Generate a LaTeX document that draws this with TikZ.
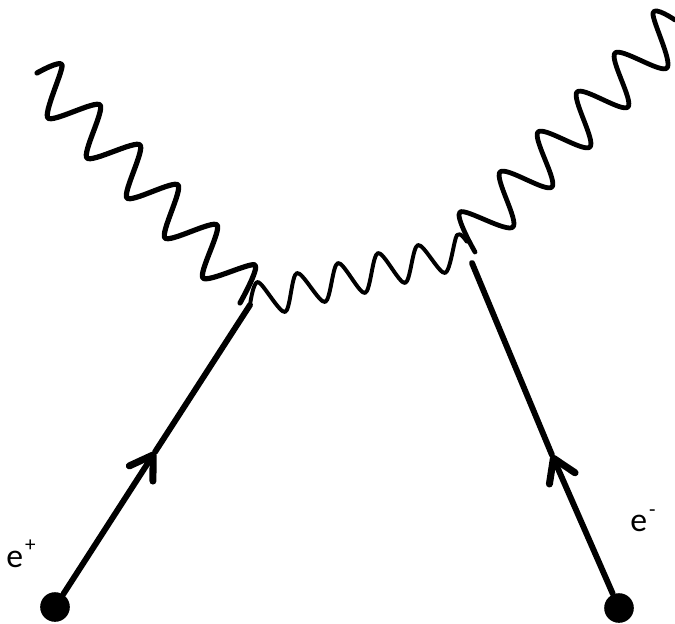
\documentclass[tikz,border=0pt]{standalone}
\usepackage{fontspec}
\setmainfont{Carlito}
\usetikzlibrary{arrows.meta}
\tikzset{
  every picture/.style={line width=1.2pt, line cap=round, line join=round},
  dot/.style={circle, fill=black, inner sep=0pt, minimum size=0.74cm},
  fermion/.style={line width=4.2pt},
  fermionarrow/.style={fermion, -{Straight Barb[length=5.5mm, width=7mm, round, line width=5pt]}},
  photon/.style={line width=#1},
  photon/.default=3pt,
  charge/.style={font=\fontsize{24}{24}\selectfont, inner sep=0pt},
}
\newcommand{\chargetext}[1]{e\kern1.5pt\raisebox{11pt}{\fontsize{15}{15}\selectfont #1}}
\begin{document}
\begin{tikzpicture}[x=0.025cm, y=-0.025cm]
  \useasboundingbox (0,0) rectangle (675,623);
  % incoming electron and positron
  \node[dot] (dotl) at (55,607) {};
  \node[dot] (dotr) at (619,608) {};
  \coordinate (tipl) at (155,452);
  \coordinate (tipr) at (552,455);
  \coordinate (vertl) at (250,305);
  \coordinate (vertr) at (472,263);
  \draw[fermionarrow] (dotl) -- (tipl);
  \draw[fermion] (tipl) -- (vertl);
  \draw[fermionarrow] (dotr) -- (tipr);
  \draw[fermion] (tipr) -- (vertr);
  % photons
  \coordinate (photl) at (37,73);
  \coordinate (photr) at (675,20);
  \draw[photon=3.7pt] plot[smooth, tension=0.45] coordinates {(photl) (62,65) (48,118) (100,105) (87,158) (140,145) (127,198) (178,185) (165,238) (217,225) (203,278) (255,265) (240,303)};
  \draw[photon=3.4pt] plot[smooth, tension=0.55] coordinates {(photr) (653,13) (667,68) (615,53) (628,107) (577,92) (590,147) (538,132) (552,187) (500,172) (513,227) (460,212) (475,252)};
  \draw[photon=2.8pt] plot[smooth, tension=0.5] coordinates {(vertl) (258,282) (285,312) (297,273) (325,302) (338,263) (365,293) (378,253) (405,283) (418,245) (445,273) (457,235) (467,242)};
  % labels
  \node[charge] (posi) at (21,554) {\chargetext{+}};
  \node[charge] (elec) at (643,521) {\chargetext{-}};
\end{tikzpicture}
\end{document}
